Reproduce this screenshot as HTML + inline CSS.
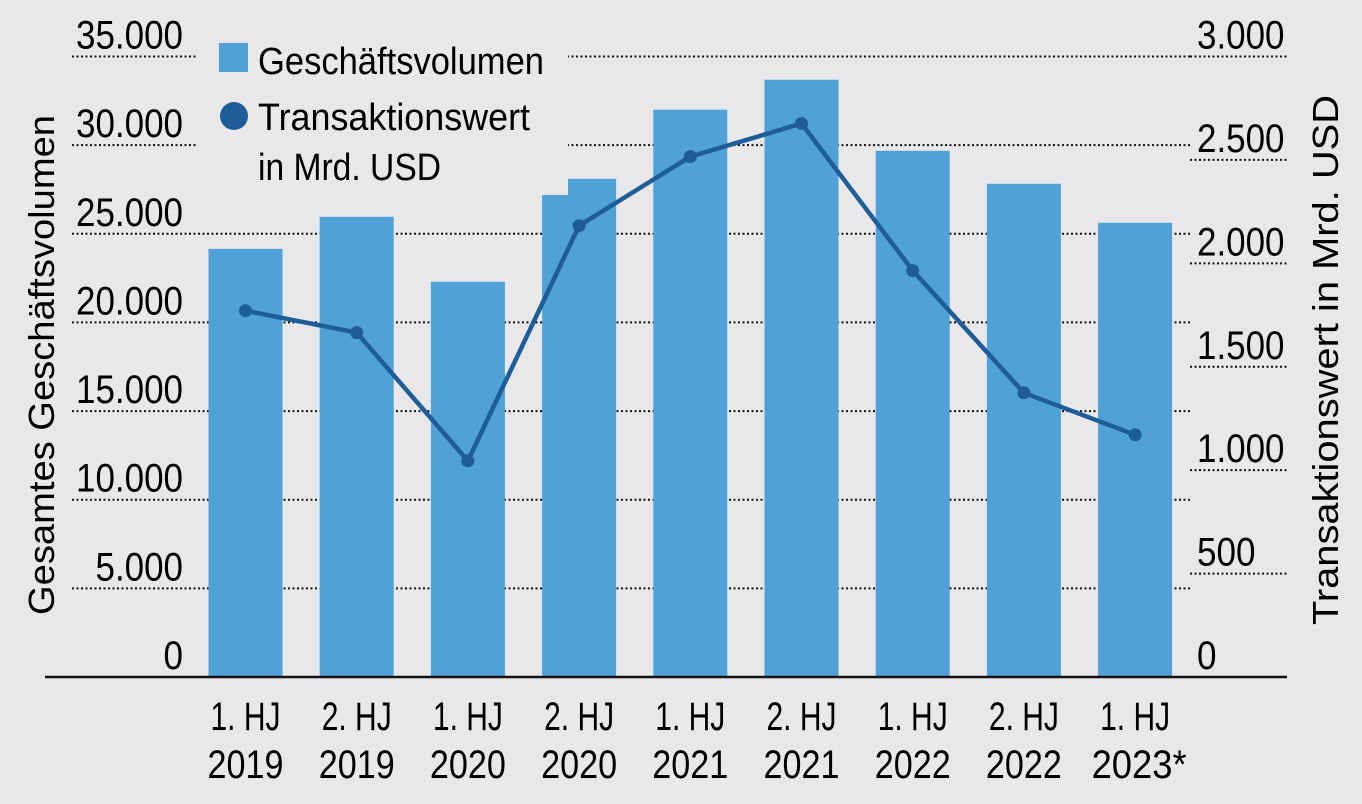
<!DOCTYPE html>
<html><head><meta charset="utf-8"><style>
html,body{margin:0;padding:0;background:#e8e8ea;}
svg{display:block;font-family:"Liberation Sans Narrow","Liberation Sans",sans-serif;}
</style></head><body>
<svg id="chart" width="1362" height="804" viewBox="0 0 1362 804" xmlns="http://www.w3.org/2000/svg">
<rect width="1362" height="804" fill="#e8e8ea"/>
<g id="grid"></g>
<g id="bars"></g>
<g id="line"></g>
<g id="ticks"></g>
<g id="xlabels"></g>
<text transform="translate(54,365) rotate(-90)" text-anchor="middle" font-size="36" textLength="500" lengthAdjust="spacingAndGlyphs">Gesamtes Geschäftsvolumen</text>
<text transform="translate(1338,360) rotate(-90)" text-anchor="middle" font-size="36" textLength="530" lengthAdjust="spacingAndGlyphs">Transaktionswert in Mrd. USD</text>
<g>
<rect x="196" y="35" width="372" height="160" fill="#e8e8ea"/>
<rect x="219" y="43" width="29" height="29" fill="#4fa1d8"/>
<text x="258" y="74" font-size="38" textLength="286" lengthAdjust="spacingAndGlyphs">Geschäftsvolumen</text>
<circle cx="234" cy="116" r="14" fill="#1e5d97"/>
<text x="258" y="130" font-size="38" textLength="272" lengthAdjust="spacingAndGlyphs">Transaktionswert</text>
<text x="258" y="180" font-size="38" textLength="183" lengthAdjust="spacingAndGlyphs">in Mrd. USD</text>
</g>
<line x1="45" y1="677" x2="1287" y2="677" stroke="#111" stroke-width="2.5"/>
</svg>
<script>
const categories1 = ["1. HJ","2. HJ","1. HJ","2. HJ","1. HJ","2. HJ","1. HJ","2. HJ","1. HJ"];
const categories2 = ["2019","2019","2020","2020","2021","2021","2022","2022","2023*"];
const volumes = [24150, 25960, 22290, 28100, 32000, 33690, 29680, 27820, 25620];
const values = [1771, 1665, 1045, 2182, 2516, 2676, 1965, 1374, 1171];
const leftTicks = [0, 5000, 10000, 15000, 20000, 25000, 30000, 35000];
const leftTickLabels = ["0","5.000","10.000","15.000","20.000","25.000","30.000","35.000"];
const rightTicks = [0, 500, 1000, 1500, 2000, 2500, 3000];
const rightTickLabels = ["0","500","1.000","1.500","2.000","2.500","3.000"];

const NS = "http://www.w3.org/2000/svg";
const y0 = 677;
const yL = v => y0 - v * (620.5 / 35000);
const yR = v => y0 - v * (620.5 / 3000);
const xC = i => 245.5 + i * 111.2;
const barW = 74;
function mk(tag, attrs, parent){const e=document.createElementNS(NS,tag);for(const k in attrs)e.setAttribute(k,attrs[k]);parent.appendChild(e);return e;}

const grid = document.getElementById('grid');
leftTicks.forEach((t,i)=>{
  if(t===0) return;
  const l = mk('line',{x1:72,x2:1192,y1:yL(t),y2:yL(t),stroke:'#111','stroke-width':2,'stroke-dasharray':'2 2.5'},grid);
  
  
});
rightTicks.forEach((t,i)=>{
  if(t===0) return;
  const l = mk('line',{x1:1190,x2:1287,y1:yR(t),y2:yR(t),stroke:'#111','stroke-width':2,'stroke-dasharray':'2 2.5'},grid);
  
  
});

const bars = document.getElementById('bars');
volumes.forEach((v,i)=>{
  const r = mk('rect',{x:xC(i)-barW/2,y:yL(v),width:barW,height:y0-yL(v),fill:'#4fa1d8'},bars);
  
  
});

const lineG = document.getElementById('line');
const p = mk('polyline',{points:values.map((v,i)=>xC(i)+','+yR(v)).join(' '),fill:'none',stroke:'#1e5d97','stroke-width':4.5,'stroke-linejoin':'round'},lineG);


values.forEach((v,i)=>{
  const c = mk('circle',{cx:xC(i),cy:yR(v),r:6.5,fill:'#1e5d97'},lineG);
  
  
});

const ticks = document.getElementById('ticks');
leftTicks.forEach((t,i)=>{
  const s = leftTickLabels[i];
  const tx = mk('text',{x:183,y:yL(t)-8,'text-anchor':'end','font-size':40,textLength:s.length*19.5+(s.includes('.')?-10:0),lengthAdjust:'spacingAndGlyphs'},ticks);
  tx.textContent = s;
  
  
});
rightTicks.forEach((t,i)=>{
  const s = rightTickLabels[i];
  const tx = mk('text',{x:1197,y:yR(t)-8,'font-size':40,textLength:s.length*19.5+(s.includes('.')?-10:0),lengthAdjust:'spacingAndGlyphs'},ticks);
  tx.textContent = s;
  
  
});

const xl = document.getElementById('xlabels');
categories1.forEach((c,i)=>{
  const a = mk('text',{x:xC(i),y:730,'text-anchor':'middle','font-size':40,textLength:70,lengthAdjust:'spacingAndGlyphs'},xl);
  a.textContent = c;
  
  
  const s = categories2[i];
  const b = mk('text',{x:xC(i)+(s.length>4?4:0),y:778,'text-anchor':'middle','font-size':40,textLength:s.length*19,lengthAdjust:'spacingAndGlyphs'},xl);
  b.textContent = s;
  
  
});
</script>
</body></html>
